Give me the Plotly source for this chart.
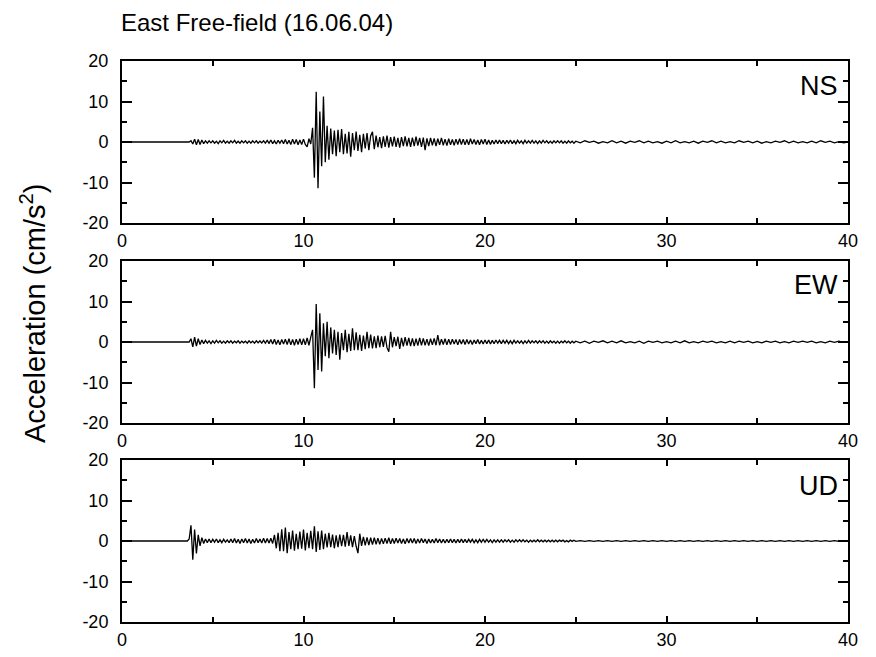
import numpy as np
import plotly.graph_objects as go

# ---------------- data ----------------
TITLE = "East Free-field (16.06.04)"
Y_TITLE = "Acceleration (cm/s<sup>2</sup>)"
COMPONENTS = ["NS", "EW", "UD"]
X_TICKS = [0, 10, 20, 30, 40]
X_MINOR = [5, 15, 25, 35]
Y_TICKS = [-20, -10, 0, 10, 20]
Y_TICK_TEXT = ["-20", "-10", "0", "10", "20"]
Y_MINOR = [-15, -5, 5, 15]

FINE_START, FINE_STEP, FINE_N = 3.0, 0.1, 220      # 3.0 .. 24.9 s
COARSE_START, COARSE_STEP, COARSE_N = 25.0, 0.25, 61  # 25.0 .. 40.0 s

NS_FINE = [
    0, 0, 0, 0, 0, 0, 0, 0, 0.3, -0.5,
    0.7, -0.7, 0.6, -0.6, 0.5, -0.4, 0.3, -0.3, 0.3, -0.2,
    0.3, -0.3, 0.2, -0.4, 0.3, -0.2, 0.4, -0.3, 0.2, -0.3,
    0.3, -0.2, 0.4, -0.3, 0.2, -0.3, 0.3, -0.2, 0.3, -0.3,
    0.2, -0.3, 0.3, -0.2, 0.3, -0.3, 0.2, -0.2, 0.3, -0.3,
    0.4, -0.3, 0.5, -0.4, 0.3, -0.5, 0.4, -0.3, 0.5, -0.4,
    0.6, -0.5, 0.4, -0.6, 0.7, -0.5, 0.6, -0.7, 0.5, -0.6,
    0.7, -0.6, -1.2, 0.8, -0.5, 3.5, -8.8, 12.4, -11.4, 7.5,
    -6.0, 11.2, -5.0, 4.0, -4.4, 3.3, -3.0, 2.8, -3.5, 3.0,
    -2.5, 3.2, -3.0, 2.0, -2.8, 2.5, -3.6, 2.2, -2.0, 2.6,
    -2.2, 1.8, -2.5, 2.0, -1.6, 2.2, -2.0, 1.5, 2.5, -1.8,
    1.6, -1.3, 1.2, -1.5, 1.4, -1.2, 1.6, -1.4, 1.2, -1.1,
    1.3, -1.2, 1.0, -1.4, 1.2, -1.0, 1.4, -1.1, 1.0, -1.2,
    1.1, -1.0, 1.3, -0.9, 1.0, -1.2, 1.1, -2.0, 0.9, -1.0,
    1.0, -0.8, 0.9, -1.0, 0.8, -0.7, 1.0, -0.8, 0.7, -0.9,
    0.8, -0.7, 0.6, -0.8, 0.7, -0.6, 0.8, -0.6, 0.7, -0.7,
    0.6, -0.7, 0.8, -0.5, 0.6, -0.6, 0.5, -0.7, 0.6, -0.5,
    0.7, -0.6, 0.5, -0.6, 0.4, -0.5, 0.5, -0.4, 0.5, -0.4,
    0.4, -0.5, 0.4, -0.3, 0.5, -0.4, 0.3, -0.4, 0.4, -0.3,
    0.3, -0.4, 0.4, -0.3, 0.3, -0.3, 0.4, -0.3, 0.3, -0.4,
    0.3, -0.3, 0.4, -0.2, 0.3, -0.3, 0.2, -0.3, 0.3, -0.2,
    0.3, -0.2, 0.3, -0.3, 0.2, -0.3, 0.3, -0.2, 0.2, -0.3,
]
NS_COARSE = [
    0.2, -0.2, 0.3, -0.1, 0.2, -0.3, 0.1, -0.2, 0.3, -0.2,
    0.2, -0.3, 0.2, -0.1, 0.3, -0.2, 0.2, -0.2, 0.1, -0.3,
    0.2, -0.2, 0.3, -0.2, 0.1, -0.2, 0.2, -0.3, 0.2, -0.1,
    0.3, -0.2, 0.2, -0.2, 0.1, -0.2, 0.3, -0.1, 0.2, -0.2,
    0.2, -0.3, 0.1, -0.2, 0.2, -0.1, 0.3, -0.2, 0.2, -0.2,
    0.1, -0.2, 0.2, -0.2, 0.3, -0.1, 0.2, -0.2, 0.1, -0.2,
    0.0,
]

EW_FINE = [
    0, 0, 0, 0, 0, 0, 0, 0, 0.8, -1.2,
    1.2, -1.0, 0.8, -0.6, 0.5, -0.4, 0.4, -0.3, 0.3, -0.4,
    0.3, -0.3, 0.4, -0.2, 0.3, -0.3, 0.2, -0.3, 0.3, -0.2,
    0.3, -0.3, 0.2, -0.2, 0.3, -0.3, 0.2, -0.2, 0.2, -0.3,
    0.3, -0.2, 0.2, -0.3, 0.3, -0.2, 0.3, -0.3, 0.4, -0.3,
    0.5, -0.4, 0.6, -0.5, 0.7, -0.6, 0.5, -0.7, 0.6, -0.5,
    0.7, -0.6, 0.8, -0.7, 0.6, -0.8, 0.7, -0.6, 0.8, -0.7,
    0.8, -0.7, 1.0, -0.8, 1.2, 3.0, -11.4, 9.4, -6.9, 7.1,
    -7.3, 4.6, -3.5, 5.0, -4.0, 3.6, -2.8, 3.0, -3.2, 2.5,
    -4.4, 2.2, -2.0, 3.0, -2.5, 2.0, -2.2, 3.4, -2.0, 2.4,
    -2.0, 1.8, -2.2, 1.6, -1.8, 2.5, -1.5, 1.8, -1.6, 1.4,
    -1.5, 1.6, -1.3, 1.4, -1.2, 1.5, -1.4, -2.4, 2.5, -1.3,
    1.2, -1.0, 1.3, -1.7, 1.0, -1.1, 1.2, -0.9, 1.0, -1.0,
    0.9, -1.0, 0.8, -0.9, 1.0, -0.8, 0.9, -0.8, 0.7, -0.9,
    0.8, -0.7, 0.9, -0.8, 1.7, -0.8, 0.7, -0.6, 0.8, -0.7,
    0.7, -0.6, 0.7, -0.5, 0.6, -0.7, 0.6, -0.5, 0.6, -0.6,
    0.6, -0.5, 0.5, -0.6, 0.5, -0.4, 0.6, -0.5, 0.4, -0.5,
    0.5, -0.4, 0.5, -0.5, 0.4, -0.4, 0.5, -0.3, 0.4, -0.4,
    0.4, -0.3, 0.4, -0.4, 0.3, -0.4, 0.4, -0.3, 0.3, -0.3,
    0.3, -0.4, 0.3, -0.3, 0.4, -0.3, 0.3, -0.2, 0.3, -0.3,
    0.3, -0.2, 0.3, -0.3, 0.2, -0.3, 0.3, -0.2, 0.2, -0.3,
    0.2, -0.3, 0.2, -0.2, 0.3, -0.2, 0.2, -0.3, 0.2, -0.2,
]
EW_COARSE = [
    0.2, -0.2, 0.2, -0.3, 0.2, -0.1, 0.3, -0.2, 0.2, -0.2,
    0.3, -0.2, 0.1, -0.2, 0.2, -0.3, 0.2, -0.1, 0.2, -0.2,
    0.1, -0.2, 0.2, -0.2, 0.3, -0.2, 0.1, -0.2, 0.2, -0.1,
    0.2, -0.2, 0.1, -0.2, 0.2, -0.2, 0.2, -0.1, 0.2, -0.2,
    0.1, -0.2, 0.2, -0.1, 0.2, -0.2, 0.1, -0.2, 0.2, -0.1,
    0.2, -0.1, 0.2, -0.2, 0.1, -0.2, 0.2, -0.1, 0.2, -0.1,
    0.0,
]

UD_FINE = [
    0, 0, 0, 0, 0, 0, 0, 0.5, 3.9, -4.6,
    2.8, -3.1, 1.5, -1.2, 0.8, -0.6, 0.5, -0.4, 0.5, -0.4,
    0.4, -0.3, 0.5, -0.4, 0.3, -0.4, 0.4, -0.3, 0.3, -0.4,
    0.5, -0.4, 0.6, -0.5, 0.4, -0.6, 0.5, -0.4, 0.6, -0.5,
    0.5, -0.6, 0.4, -0.5, 0.6, -0.4, 0.5, -0.5, 0.7, -0.5,
    0.6, -0.5, 0.7, -0.6, 1.5, -1.8, 2.0, -2.5, 2.9, -2.5,
    3.3, -3.0, 2.2, -2.0, 2.6, -2.4, 1.8, -2.0, 2.3, -1.9,
    2.8, -2.3, 2.0, -1.8, 2.5, -2.0, 3.6, -2.7, 2.4, -2.2,
    2.6, -2.0, 1.8, -1.6, 2.0, -1.5, 1.6, -1.8, 1.4, -1.5,
    1.6, -1.3, 1.5, -1.4, 2.2, -1.2, 1.4, -1.5, 1.2, -1.3,
    -3.0, 1.8, -1.2, 1.0, -1.1, 0.9, -1.0, 0.8, -0.9, 0.8,
    -0.8, 0.7, -0.8, 0.6, -0.7, 0.7, -0.6, 0.8, -0.7, 0.6,
    -0.6, 0.7, -0.5, 0.6, -0.6, 0.5, -0.7, 0.6, -0.5, 0.6,
    -0.5, 0.6, -0.6, 0.5, -0.5, 0.6, -0.4, 0.5, -0.6, 0.5,
    -0.5, 0.4, -0.5, 0.6, -0.4, 0.5, -0.5, 0.4, -0.5, 0.4,
    -0.4, 0.5, -0.4, 0.4, -0.5, 0.4, -0.4, 0.5, -0.4, 0.4,
    -0.4, 0.4, -0.3, 0.4, -0.4, 0.3, -0.4, 0.4, -0.3, 0.4,
    -0.3, 0.4, -0.3, 0.3, -0.4, 0.3, -0.3, 0.3, -0.3, 0.3,
    -0.3, 0.3, -0.2, 0.3, -0.3, 0.2, -0.3, 0.3, -0.2, 0.3,
    -0.2, 0.3, -0.2, 0.2, -0.3, 0.2, -0.2, 0.2, -0.2, 0.3,
    -0.2, 0.2, -0.2, 0.2, -0.2, 0.2, -0.2, 0.2, -0.2, 0.2,
    -0.2, 0.2, -0.1, 0.2, -0.2, 0.1, -0.2, 0.2, -0.1, 0.2,
]
UD_COARSE = [
    -0.1, 0.1, -0.1, 0.1, -0.1, 0.1, -0.1, 0.1, -0.1, 0.1,
    -0.1, 0.1, -0.1, 0.1, -0.1, 0.1, -0.1, 0.1, -0.1, 0.1,
    -0.1, 0.1, -0.1, 0.1, -0.1, 0.1, -0.1, 0.1, -0.1, 0.1,
    -0.1, 0.1, -0.1, 0.1, -0.1, 0.1, -0.1, 0.1, -0.1, 0.1,
    -0.1, 0.1, -0.1, 0.1, -0.1, 0.1, -0.1, 0.1, -0.1, 0.1,
    -0.1, 0.1, -0.1, 0.1, -0.1, 0.1, -0.1, 0.1, -0.1, 0.1,
    0.0,
]

# ---------------- figure ----------------
W, H = 876, 657
FONT = "Arial, 'Liberation Sans', sans-serif"

TIME = np.concatenate([
    [0.0],
    np.round(FINE_START + FINE_STEP * np.arange(FINE_N), 3),
    np.round(COARSE_START + COARSE_STEP * np.arange(COARSE_N), 3),
])
SERIES = [
    [0.0] + NS_FINE + NS_COARSE,
    [0.0] + EW_FINE + EW_COARSE,
    [0.0] + UD_FINE + UD_COARSE,
]

# panel pixel boxes (top, bottom)
PANELS_PX = [(61, 223), (261, 423), (460, 622)]
X_LEFT, X_RIGHT = 122, 848
LABEL_Y_PX = [86, 285, 486]

fig = go.Figure()
layout = dict(
    width=W, height=H,
    margin=dict(l=0, r=0, t=0, b=0),
    paper_bgcolor="white", plot_bgcolor="white",
    showlegend=False,
    font=dict(family=FONT, color="black", size=18),
)

annotations = []
for i, (name, vals) in enumerate(zip(COMPONENTS, SERIES)):
    k = "" if i == 0 else str(i + 1)
    fig.add_trace(go.Scatter(
        x=TIME, y=vals, mode="lines",
        line=dict(color="black", width=1.3),
        xaxis="x" + k, yaxis="y" + k, hoverinfo="skip",
    ))
    top, bot = PANELS_PX[i]
    layout["xaxis" + k] = dict(
        domain=[X_LEFT / W, X_RIGHT / W], anchor="y" + k,
        range=[0, 40], tickmode="array", tickvals=X_TICKS,
        ticks="inside", ticklen=6, tickwidth=1.5, tickcolor="black",
        minor=dict(tickmode="array", tickvals=X_MINOR, ticks="inside",
                   ticklen=5, tickwidth=1.5, tickcolor="black"),
        showline=True, linecolor="black", linewidth=2, mirror="ticks",
        showgrid=False, zeroline=False,
        tickfont=dict(size=18, family=FONT, color="black"),
        fixedrange=True, automargin=False,
    )
    layout["yaxis" + k] = dict(
        domain=[1 - bot / H, 1 - top / H], anchor="x" + k,
        range=[-20, 20], tickmode="array", tickvals=Y_TICKS,
        ticktext=Y_TICK_TEXT,
        ticks="inside", ticklen=10, tickwidth=1.5, tickcolor="black",
        minor=dict(tickmode="array", tickvals=Y_MINOR, ticks="inside",
                   ticklen=5, tickwidth=1.5, tickcolor="black"),
        showline=True, linecolor="black", linewidth=2, mirror="ticks",
        showgrid=False, zeroline=False,
        tickfont=dict(size=18, family=FONT, color="black"),
        ticklabelstandoff=8,
        fixedrange=True, automargin=False,
    )
    annotations.append(dict(
        text=name, xref="paper", yref="paper",
        x=840 / W, y=1 - LABEL_Y_PX[i] / H,
        xanchor="right", yanchor="middle", showarrow=False,
        font=dict(size=27, family=FONT, color="black"),
    ))

annotations.append(dict(
    text=TITLE, xref="paper", yref="paper",
    x=119 / W, y=1 - 22 / H, xanchor="left", yanchor="middle",
    showarrow=False, font=dict(size=24, family=FONT, color="black"),
))
annotations.append(dict(
    text=Y_TITLE, xref="paper", yref="paper",
    x=33 / W, y=1 - 314 / H, xanchor="center", yanchor="middle",
    textangle=-90, showarrow=False,
    font=dict(size=29, family=FONT, color="black"),
))
layout["annotations"] = annotations
fig.update_layout(**layout)
fig.write_html("out.html")
